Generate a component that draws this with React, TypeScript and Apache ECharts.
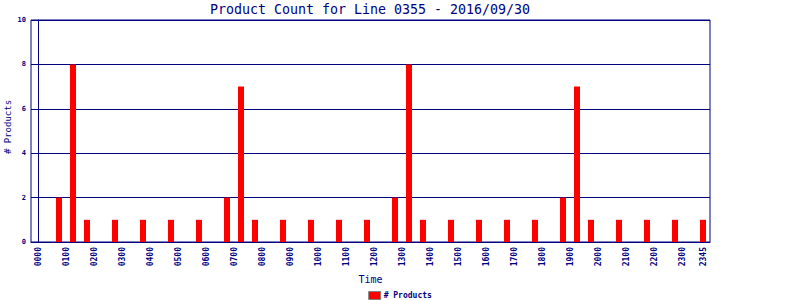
import React, { useEffect, useRef } from "react";
import * as echarts from "echarts";

const NAVY = "#000080";
const FONT = "'DejaVu Sans Mono', 'Liberation Mono', monospace";

const titleText = "Product Count for Line 0355 - 2016/09/30";
const yName = "# Products";
const seriesName = "# Products";

// Bar times (HHMM) and product counts
const times = [
  "0045", "0115", "0145", "0245", "0345", "0445", "0545",
  "0645", "0715", "0745", "0845", "0945", "1045", "1145",
  "1245", "1315", "1345", "1445", "1545", "1645", "1745",
  "1845", "1915", "1945", "2045", "2145", "2245", "2345",
];
const counts = [
  2, 8, 1, 1, 1, 1, 1,
  2, 7, 1, 1, 1, 1, 1,
  2, 8, 1, 1, 1, 1, 1,
  2, 7, 1, 1, 1, 1, 1,
];

// X tick labels (HHMM)
const tickLabels = [
  "0000", "0100", "0200", "0300", "0400", "0500", "0600", "0700",
  "0800", "0900", "1000", "1100", "1200", "1300", "1400", "1500",
  "1600", "1700", "1800", "1900", "2000", "2100", "2200", "2300", "2345",
];

const toMin = (s: string) => parseInt(s.slice(0, 2), 10) * 60 + parseInt(s.slice(2), 10);
const toLabel = (m: number) => {
  const h = Math.floor(m / 60);
  const mm = m % 60;
  return String(h).padStart(2, "0") + String(mm).padStart(2, "0");
};

export default function App() {
  const ref = useRef<HTMLDivElement>(null);

  useEffect(() => {
    document.body.style.margin = "0";
    if (!ref.current) return;
    const chart = echarts.init(ref.current, undefined, { renderer: "svg" });
    const data = times.map((t, i) => [toMin(t), counts[i]]);
    chart.setOption({
      animation: false,
      backgroundColor: "#ffffff",
      textStyle: { fontFamily: FONT },
      grid: {
        left: 31,
        right: 90,
        top: 20,
        bottom: 58,
        containLabel: false,
        outerBoundsMode: "none",
        show: true,
        borderColor: NAVY,
        borderWidth: 1,
        backgroundColor: "transparent",
      },
      graphic: [
        {
          type: "text",
          x: 370,
          y: 9,
          style: {
            text: titleText,
            fill: NAVY,
            font: `13.3px ${FONT}`,
            textAlign: "center",
            textVerticalAlign: "middle",
          },
        },
        {
          type: "text",
          x: 8,
          y: 127,
          rotation: Math.PI / 2,
          style: {
            text: yName,
            fill: NAVY,
            font: `9px ${FONT}`,
            textAlign: "center",
            textVerticalAlign: "middle",
          },
        },
      ],
      legend: {
        data: [seriesName],
        left: "center",
        top: 286,
        icon: "rect",
        itemWidth: 12,
        itemHeight: 8,
        itemGap: 4,
        itemStyle: { borderColor: "#808080", borderWidth: 1 },
        textStyle: { color: NAVY, fontFamily: FONT, fontSize: 8, fontWeight: "bold", padding: [0, 0, 0, -2] },
      },
      xAxis: {
        type: "value",
        min: -15,
        max: 1440,
        name: "Time",
        nameLocation: "middle",
        nameGap: 31,
        nameTextStyle: { color: NAVY, fontFamily: FONT, fontSize: 10 },
        axisLine: { show: true, lineStyle: { color: NAVY, width: 1 } },
        axisTick: { show: false },
        splitLine: { show: false },
        axisLabel: {
          customValues: tickLabels.map(toMin),
          formatter: (v: number) => toLabel(v),
          rotate: 90,
          margin: 5,
          color: NAVY,
          fontFamily: FONT,
          fontSize: 8,
          fontWeight: "bold",
        },
      },
      yAxis: {
        type: "value",
        min: 0,
        max: 10,
        interval: 2,
        axisLine: { show: true, lineStyle: { color: NAVY, width: 1 } },
        axisTick: { show: false },
        splitLine: { show: true, lineStyle: { color: NAVY, width: 1 } },
        axisLabel: {
          color: NAVY,
          fontFamily: FONT,
          fontSize: 7,
          fontWeight: "bold",
          margin: 5,
        },
      },
      series: [
        {
          name: seriesName,
          type: "bar",
          data,
          barWidth: 6,
          itemStyle: { color: "#ff0000" },
        },
      ],
    });
    return () => chart.dispose();
  }, []);

  return <div ref={ref} style={{ width: 800, height: 300 }} />;
}
